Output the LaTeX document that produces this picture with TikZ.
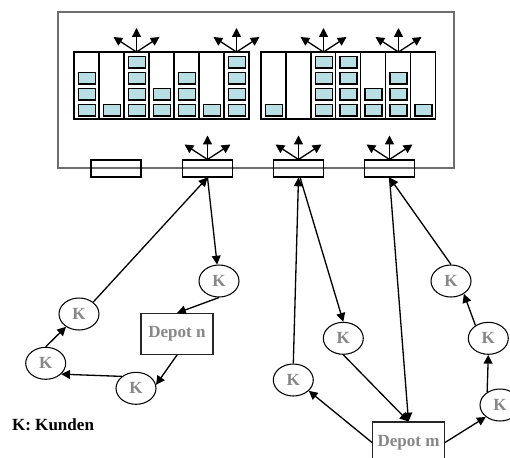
\documentclass[tikz,border=0pt]{standalone}
\usepackage{fontspec}
\setmainfont{Liberation Serif}
\usetikzlibrary{arrows.meta,shapes.geometric}
\definecolor{fach}{RGB}{184,224,228}
\definecolor{kgrau}{RGB}{135,135,135}
\definecolor{rahmen}{RGB}{110,110,110}

\begin{document}
\begin{tikzpicture}[x=0.02cm, y=-0.02cm,
  pfeil/.style={black, line width=0.75pt, -{Triangle[length=5pt, width=5pt]}},
  kunde/.style={ellipse, draw=black, line width=0.6pt, minimum width=0.8cm, minimum height=0.64cm, inner sep=0pt, text=kgrau, font=\fontsize{9.7}{11}\selectfont\bfseries},
  depot/.style={rectangle, draw=black!85, line width=0.6pt, minimum width=1.44cm, minimum height=0.82cm, inner sep=0pt, text=kgrau, font=\fontsize{9.7}{11}\selectfont\bfseries},
  hub/.style={rectangle, draw=black, line width=0.6pt, minimum width=1cm, minimum height=0.34cm, inner sep=0pt}]
\clip (0,0) rectangle (510,457);
% Rahmen
\draw[rahmen, line width=0.8pt] (58,12) rectangle (454,168);
% Regal links
\foreach \n [count=\i] in {3,1,4,2,3,1,4}{
	\draw[black, line width=0.8pt] (49+25*\i,52) rectangle +(25,67);
	\ifnum\n>0\relax
	\foreach \k in {1,...,\n}{
		\draw[black, line width=0.8pt, fill=fach] (53.5+25*\i,120.5-16*\k) rectangle +(17,11.5);
	}
	\fi
}
% Regal rechts
\foreach \n [count=\i] in {1,0,4,4,2,3,1}{
	\draw[black, line width=0.8pt] (236.1+24.9*\i,52) rectangle +(24.9,67);
	\ifnum\n>0\relax
	\foreach \k in {1,...,\n}{
		\draw[black, line width=0.8pt, fill=fach] (240.5+24.9*\i,120.5-16*\k) rectangle +(17,11.5);
	}
	\fi
}
% Umschlagpunkte
\node[hub] (hub1) at (116,168.5) {};
\node[hub] (hub2) at (207.5,168.5) {};
\node[hub] (hub3) at (298.5,168.5) {};
\node[hub] (hub4) at (389.5,168.5) {};
\coordinate (f1) at (136.5,52);
\coordinate (f2) at (236.5,52);
\coordinate (f3) at (323.5,52);
\coordinate (f4) at (398.5,52);
\foreach \f in {f1,f2,f3,f4,hub2.north,hub3.north,hub4.north}{
	\draw[pfeil] (\f) -- ++(0,-24);
	\draw[pfeil] (\f) -- ++(-23,-15);
	\draw[pfeil] (\f) -- ++(23,-15);
}
% Tour Depot n
\node[depot] (depotn) at (177,334) {Depot n};
\node[kunde] (k1) at (219,281) {K};
\node[kunde] (k2) at (79,314) {K};
\node[kunde] (k3) at (45.7,363.3) {K};
\node[kunde] (k4) at (136,388.3) {K};
\draw[pfeil] (hub2.south) -- (k1);
\draw[pfeil] (k1.south) -- (depotn.north);
\draw[pfeil] (depotn.south) -- (k4.10);
\draw[pfeil] (k4.140) -- (k3.-35);
\draw[pfeil] (k3.north) -- (k2);
\draw[pfeil] (k2.40) -- (hub2.south);
% Tour Depot m
\node[depot] (depotm) at (408.5,442.5) {Depot m};
\node[kunde] (k5) at (293.3,380) {K};
\node[kunde] (k6) at (343.3,338.3) {K};
\node[kunde] (k7) at (500,405) {K};
\node[kunde] (k8) at (488.3,338.3) {K};
\node[kunde] (k9) at (451,281) {K};
\draw[pfeil] (k5.north) -- (hub3.south);
\draw[pfeil] (hub3.-80) -- (k6.north);
\draw[pfeil] (k6.south) -- (depotm.north);
\draw[pfeil] (hub4.south) -- (depotm.north);
\draw[pfeil] (depotm.west) -- (k5.-35);
\draw[pfeil] (depotm.east) -- (k7.-140);
\draw[pfeil] (k7.135) -- (k8.south);
\draw[pfeil] (k8.135) -- (k9.-45);
\draw[pfeil] (k9.north) -- (hub4.south);
% Legende
\node[anchor=west, inner sep=0pt, font=\fontsize{9.7}{11}\selectfont\bfseries] (legende) at (11.7,425) {K: Kunden};
\end{tikzpicture}
\end{document}
